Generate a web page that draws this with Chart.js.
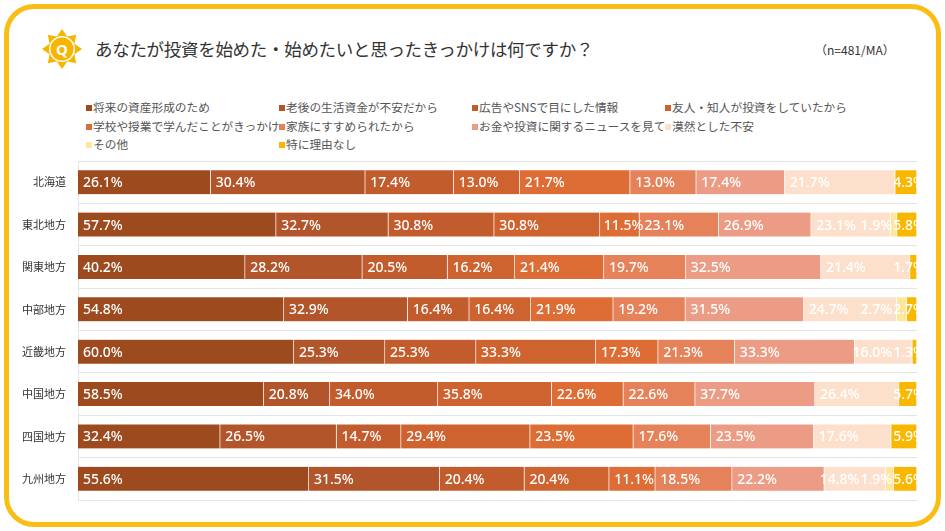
<!DOCTYPE html>
<html lang="ja">
<head>
<meta charset="utf-8">
<title>投資を始めたきっかけ</title>
<script src="https://cdn.jsdelivr.net/npm/chart.js@4.4.1/dist/chart.umd.min.js"></script>
<style>
  html, body { margin: 0; padding: 0; background: #fff; }
  body { width: 945px; height: 531px; position: relative; overflow: hidden;
         font-family: "Noto Sans CJK JP", "Noto Sans", sans-serif; }
  #card { position: absolute; left: 4px; top: 4px; width: 927px; height: 513px;
          border: 5px solid #f9bd14; border-radius: 30px; }
  #icon { position: absolute; left: 40px; top: 27px; }
  #title { position: absolute; left: 95px; top: 36px; font-size: 17.5px; color: #333; letter-spacing: -0.3px; }
  #note { position: absolute; left: 815px; top: 41px; font-size: 12px; color: #333; }
  #legend { position: absolute; left: 86px; top: 98px; width: 790px; }
  .item { float: left; width: 193px; height: 18.5px; font-size: 11.7px; color: #555; line-height: 18px; white-space: nowrap; }
  .item i { display: inline-block; width: 6px; height: 6px; margin-right: 1px; vertical-align: 1px; }
  #wrap { position: absolute; left: 0; top: 0; width: 945px; height: 531px; }
</style>
</head>
<body>
<div id="card"></div>
<svg id="icon" width="44" height="44" viewBox="-22 -22 44 44">
  <polygon id="star" fill="#f8b500"></polygon>
  <circle r="13" fill="#fff"></circle>
  <circle r="11.5" fill="#f8b500"></circle>
  <text x="0" y="5.5" text-anchor="middle" font-size="15" font-weight="bold" fill="#fff" font-family="Noto Sans">Q</text>
</svg>
<div id="title">あなたが投資を始めた・始めたいと思ったきっかけは何ですか？</div>
<div id="note">（n=481/MA）</div>
<div id="legend"></div>
<div id="wrap"><canvas id="grafico"></canvas></div>

<script>
// categorias (regioes) e respostas
var regioes = ['北海道', '東北地方', '関東地方', '中部地方', '近畿地方', '中国地方', '四国地方', '九州地方'];
var motivos = ['将来の資産形成のため', '老後の生活資金が不安だから', '広告やSNSで目にした情報', '友人・知人が投資をしていたから',
  '学校や授業で学んだことがきっかけ', '家族にすすめられたから', 'お金や投資に関するニュースを見て', '漠然とした不安',
  'その他', '特に理由なし'];

// valores (%) por resposta, na ordem das regioes
var shisan_keisei = [26.1, 57.7, 40.2, 54.8, 60.0, 58.5, 32.4, 55.6];
var rogo_fuan     = [30.4, 32.7, 28.2, 32.9, 25.3, 20.8, 26.5, 31.5];
var kokoku_sns    = [17.4, 30.8, 20.5, 16.4, 25.3, 34.0, 14.7, 20.4];
var yujin_chijin  = [13.0, 30.8, 16.2, 16.4, 33.3, 35.8, 29.4, 20.4];
var gakko         = [21.7, 11.5, 21.4, 21.9, 17.3, 22.6, 23.5, 11.1];
var kazoku        = [13.0, 23.1, 19.7, 19.2, 21.3, 22.6, 17.6, 18.5];
var news          = [17.4, 26.9, 32.5, 31.5, 33.3, 37.7, 23.5, 22.2];
var bakuzen       = [21.7, 23.1, 21.4, 24.7, 16.0, 26.4, 17.6, 14.8];
var sonota        = [0, 1.9, 0, 2.7, 0, 0, 0, 1.9];
var tokuni_nashi  = [4.3, 5.8, 1.7, 2.7, 1.3, 5.7, 5.9, 5.6];

var series = [shisan_keisei, rogo_fuan, kokoku_sns, yujin_chijin, gakko, kazoku, news, bakuzen, sonota, tokuni_nashi];
var cores = ['#9c4a1e', '#b3552a', '#c25c2c', '#cf632f', '#de6d35', '#e6825a', '#ec9c84', '#fde0cc', '#fde6a0', '#f9b700'];

// estrela do icone Q
var pts = [];
for (var k = 0; k < 16; k++) {
  var r = (k % 2 == 0) ? 20 : 13.5;
  var a = -Math.PI / 2 + k * Math.PI / 8;
  pts.push((r * Math.cos(a)).toFixed(2) + ',' + (r * Math.sin(a)).toFixed(2));
}
document.getElementById('star').setAttribute('points', pts.join(' '));

// legenda em html
var legendaEl = document.getElementById('legend');
motivos.forEach(function (m, i) {
  var d = document.createElement('div');
  d.className = 'item';
  if (i == 8) d.style.clear = 'left';
  d.innerHTML = '<i style="background:' + cores[i] + '"></i>' + m;
  legendaEl.appendChild(d);
});

// total de cada regiao (barra ocupa 100% da largura)
var totais = regioes.map(function (r, i) {
  var s = 0;
  series.forEach(function (v) { s += v[i]; });
  return s;
});

var datasets = series.map(function (v, d) {
  return {
    label: motivos[d],
    data: v.map(function (x, i) { return x / totais[i] * 100; }),
    raw: v,
    backgroundColor: cores[d],
    borderColor: 'rgba(255,255,255,0.3)',
    borderWidth: { right: 1, left: 0, top: 0, bottom: 0 },
    borderSkipped: false,
    barThickness: 24
  };
});

// rotulos brancos alinhados a esquerda de cada segmento
var rotulos = {
  id: 'rotulos',
  afterDatasetsDraw: function (chart) {
    var ctx = chart.ctx, area = chart.chartArea;
    ctx.save();
    ctx.beginPath();
    ctx.rect(area.left, area.top, area.right - area.left, area.bottom - area.top);
    ctx.clip();
    ctx.font = '500 14px "Noto Sans"';
    ctx.fillStyle = '#fff';
    ctx.textBaseline = 'middle';
    ctx.textAlign = 'left';
    regioes.forEach(function (r, i) {
      var itens = [];
      chart.data.datasets.forEach(function (ds, d) {
        var valor = ds.raw[i];
        if (!valor) return;
        var bar = chart.getDatasetMeta(d).data[i];
        var txt = valor.toFixed(1) + '%';
        itens.push({ txt: txt, x: Math.min(bar.base, bar.x) + 5, y: bar.y + 1, w: ctx.measureText(txt).width });
      });
      // empurra para a esquerda os que passam do fim
      var limite = area.right + 8;
      for (var k = itens.length - 1; k >= 0; k--) {
        if (itens[k].x + itens[k].w > limite) itens[k].x = limite - itens[k].w;
        limite = itens[k].x - 1;
      }
      itens.forEach(function (it) { ctx.fillText(it.txt, it.x, it.y); });
    });
    ctx.restore();
  }
};

var ctx = document.getElementById('grafico');
var chartGraph = new Chart(ctx, {
  type: 'bar',
  data: { labels: regioes, datasets: datasets },
  options: {
    indexAxis: 'y',
    responsive: true,
    maintainAspectRatio: false,
    animation: false,
    layout: { padding: { top: 161, bottom: 31, left: 0, right: 28 } },
    plugins: { legend: { display: false }, tooltip: { enabled: false } },
    scales: {
      x: { stacked: true, min: 0, max: 100, display: false },
      y: {
        stacked: true,
        afterFit: function (scale) { scale.width = 78; },
        grid: { offset: true, color: '#e4e4e4', drawTicks: false },
        border: { color: '#e4e4e4' },
        ticks: { padding: 12, color: '#333', font: { size: 11, family: '"Noto Sans CJK JP"' } }
      }
    }
  },
  plugins: [rotulos]
});
</script>
</body>
</html>
